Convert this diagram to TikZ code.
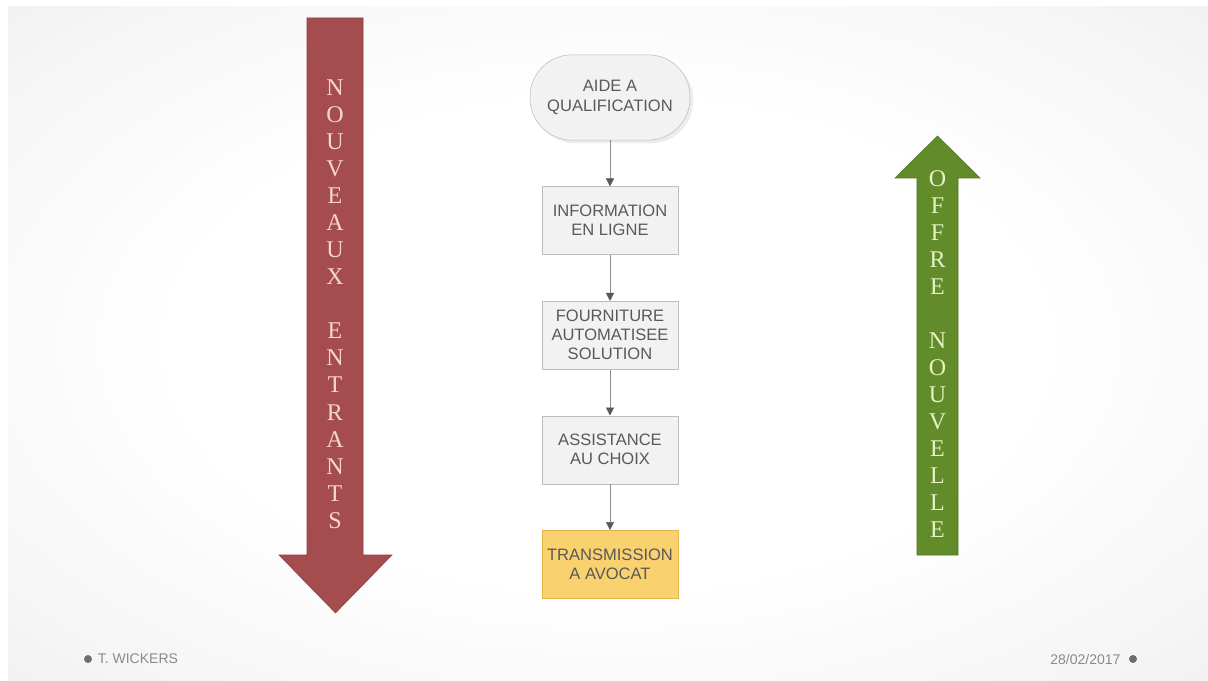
\documentclass[tikz,border=0pt]{standalone}
\usepackage{fontspec}
\setmainfont{Liberation Serif}
\newfontfamily\boxfont{Liberation Sans}
\usepackage{xcolor}
\usepackage{tikz}
\usetikzlibrary{positioning,arrows.meta,shadows}
\definecolor{boxgray}{HTML}{F2F2F2}
\definecolor{edgegray}{HTML}{BDBDBD}
\definecolor{textgray}{HTML}{595959}
\definecolor{linegray}{HTML}{8C8C8C}
\definecolor{tipgray}{HTML}{595959}
\definecolor{goldfill}{HTML}{F9D26F}
\definecolor{goldedge}{HTML}{E2B44C}
\definecolor{brickred}{HTML}{A54C4E}
\definecolor{brickedge}{HTML}{8E3F41}
\definecolor{pinktext}{HTML}{F6D6CB}
\definecolor{leafgreen}{HTML}{628B2A}
\definecolor{leafedge}{HTML}{4F7221}
\definecolor{limetext}{HTML}{E4F2C6}
\definecolor{footgray}{HTML}{8A8A8A}
\pgfdeclareradialshading{slidebg}{\pgfpoint{0bp}{0bp}}{color(0bp)=(white); color(18bp)=(white); color(32bp)=(black!4); color(45bp)=(black!9); color(52bp)=(black!12); color(72bp)=(black!16)}
\tikzstyle{terminal} = [draw=edgegray, fill=boxgray, rectangle, rounded corners=31.5pt,
minimum height=64pt, minimum width=120pt, align=center, text=textgray,
font=\boxfont\fontsize{12.4}{14.6}\selectfont]
\tikzstyle{block} = [draw=edgegray, fill=boxgray, rectangle,
minimum height=51pt, minimum width=102pt, align=center, text=textgray,
font=\boxfont\fontsize{12.4}{14.3}\selectfont]
\tikzstyle{goal} = [block, draw=goldedge, fill=goldfill]
\tikzstyle{flow} = [draw=linegray, -{Triangle[length=6pt,width=6pt,color=tipgray]}]
\tikzstyle{letters} = [align=center, inner sep=0pt, font=\fontsize{18}{20.3}\selectfont]
\tikzstyle{footer} = [inner sep=0pt, text=footgray, font=\boxfont\fontsize{10.5}{12}\selectfont]
\tikzstyle{bullet} = [circle, fill=footgray!80!black, inner sep=0pt, minimum size=6pt]

\begin{document}
\begin{tikzpicture}[x=0.75pt, y=-0.75pt, node distance=34.5pt]
	% The slide background first
	\useasboundingbox (0,0) rectangle (1208,681);
	\fill[white] (0,0) rectangle (1208,681);
	\shade[shading=slidebg] (8,7) rectangle (1208,681);
	
	% The two big arrows are plain shapes
	\draw[fill=brickred, draw=brickedge] (307,18) -- (363,18) -- (363,555) -- (392,555)
	-- (335.5,613) -- (279,555) -- (307,555) -- cycle;
	\node[letters, text=pinktext] (nouveaux) at (335,304)
	{N\\O\\U\\V\\E\\A\\U\\X\\\mbox{}\\E\\N\\T\\R\\A\\N\\T\\S};
	\draw[fill=leafgreen, draw=leafedge] (937.5,136) -- (980,178) -- (958,178) -- (958,555)
	-- (917,555) -- (917,178) -- (895,178) -- cycle;
	\node[letters, text=limetext] (offre) at (937.5,354)
	{O\\F\\F\\R\\E\\\mbox{}\\N\\O\\U\\V\\E\\L\\L\\E};
	
	% Then the chain of steps in the middle
	\node[terminal, drop shadow={opacity=0.15}] (aide) at (610,97.5) {AIDE A\\QUALIFICATION};
	\node[block, below=of aide] (info) {INFORMATION\\EN LIGNE};
	\node[block, below=of info] (fourniture) {FOURNITURE\\AUTOMATISEE\\SOLUTION};
	\node[block, below=of fourniture] (assistance) {ASSISTANCE\\AU CHOIX};
	\node[goal, below=of assistance] (transmission) {TRANSMISSION\\A AVOCAT};
	
	% Once the steps are placed, linking them is easy.
	\draw[flow] (aide) -- (info);
	\draw[flow] (info) -- (fourniture);
	\draw[flow] (fourniture) -- (assistance);
	\draw[flow] (assistance) -- (transmission);
	
	% Footer
	\node[bullet] (authordot) at (88,659) {};
	\node[footer, right=4pt of authordot] (author) {T. WICKERS};
	\node[bullet] (datedot) at (1133,659) {};
	\node[footer, left=6pt of datedot] (date) {28/02/2017};
\end{tikzpicture}
\end{document}
